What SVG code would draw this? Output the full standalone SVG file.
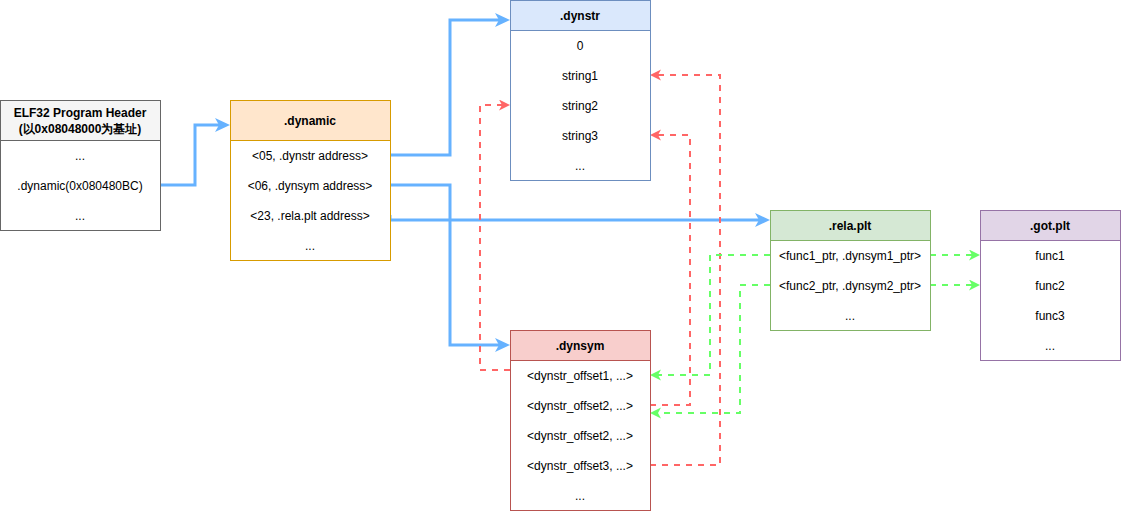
<svg xmlns="http://www.w3.org/2000/svg" width="1121" height="512" viewBox="0 0 1121 512">
  <style>
    text { font-family: "Liberation Sans", Arial, sans-serif; font-size: 12px; fill: #000; text-anchor: middle; dominant-baseline: central; }
    .title { font-weight: bold; }
    .body { fill: #ffffff; }
    .blue { fill: none; stroke: #66B2FF; stroke-width: 3; }
    .red { fill: none; stroke: #FF6666; stroke-width: 2; stroke-dasharray: 6 6; }
    .green { fill: none; stroke: #66FF66; stroke-width: 2; stroke-dasharray: 6 6; }
  </style>
  <defs>
    <marker id="arrowBlue" markerUnits="userSpaceOnUse" markerWidth="16" markerHeight="15" refX="11" refY="7" orient="auto">
      <path d="M0,0 L15,7 L0,14 L4,7 Z" fill="#66B2FF"/>
    </marker>
    <marker id="arrowRed" markerUnits="userSpaceOnUse" markerWidth="12" markerHeight="12" refX="8" refY="5.5" orient="auto">
      <path d="M0,0 L11,5.5 L0,11 L3,5.5 Z" fill="#FF6666"/>
    </marker>
    <marker id="arrowGreen" markerUnits="userSpaceOnUse" markerWidth="12" markerHeight="12" refX="8" refY="5.5" orient="auto">
      <path d="M0,0 L11,5.5 L0,11 L3,5.5 Z" fill="#66FF66"/>
    </marker>
  </defs>

  <rect width="1121" height="512" fill="#ffffff"/>

  <!-- connectors -->
  <g id="connectors">
    <!-- program header -> .dynamic -->
    <path class="blue" d="M160,185 H195 V125 H226" marker-end="url(#arrowBlue)"/>
    <!-- .dynamic entries -> sections -->
    <path class="blue" d="M390,155 H450 V20 H506" marker-end="url(#arrowBlue)"/>
    <path class="blue" d="M390,185 H450 V345 H506" marker-end="url(#arrowBlue)"/>
    <path class="blue" d="M390,215 V220 H766" marker-end="url(#arrowBlue)"/>
    <!-- .dynsym name offsets -> .dynstr strings -->
    <path class="red" d="M510,370 H480 V105 H507" marker-end="url(#arrowRed)"/>
    <path class="red" d="M650,405 H690 V135 H653" marker-end="url(#arrowRed)"/>
    <path class="red" d="M650,465 H720 V75 H653" marker-end="url(#arrowRed)"/>
    <!-- .rela.plt -> .dynsym -->
    <path class="green" d="M770,255 H710 V375 H653" marker-end="url(#arrowGreen)"/>
    <path class="green" d="M770,285 H740 V413 H653" marker-end="url(#arrowGreen)"/>
    <!-- .rela.plt -> .got.plt -->
    <path class="green" d="M930,255 H977" marker-end="url(#arrowGreen)"/>
    <path class="green" d="M930,285 H977" marker-end="url(#arrowGreen)"/>
  </g>

  <!-- ELF32 program header -->
  <g id="elf-header">
    <rect x="0.5" y="100.5" width="160" height="130" class="body" stroke="#666666"/>
    <rect x="0.5" y="100.5" width="160" height="40" fill="#f5f5f5" stroke="#666666"/>
    <text class="title" x="80" y="113" fill="#333333">ELF32 Program Header</text>
    <text class="title" x="80" y="129" fill="#333333">(以0x08048000为基址)</text>
    <text x="80" y="156">...</text>
    <text x="80" y="186">.dynamic(0x080480BC)</text>
    <text x="80" y="216">...</text>
  </g>

  <!-- .dynamic -->
  <g id="dynamic">
    <rect x="230.5" y="100.5" width="160" height="160" class="body" stroke="#d79b00"/>
    <rect x="230.5" y="100.5" width="160" height="40" fill="#ffe6cc" stroke="#d79b00"/>
    <text class="title" x="310" y="121">.dynamic</text>
    <text x="310" y="156">&lt;05, .dynstr address&gt;</text>
    <text x="310" y="186">&lt;06, .dynsym address&gt;</text>
    <text x="310" y="216">&lt;23, .rela.plt address&gt;</text>
    <text x="310" y="246">...</text>
  </g>

  <!-- .dynstr -->
  <g id="dynstr">
    <rect x="510.5" y="0.5" width="140" height="180" class="body" stroke="#6c8ebf"/>
    <rect x="510.5" y="0.5" width="140" height="30" fill="#dae8fc" stroke="#6c8ebf"/>
    <text class="title" x="580" y="16">.dynstr</text>
    <text x="580" y="46">0</text>
    <text x="580" y="76">string1</text>
    <text x="580" y="106">string2</text>
    <text x="580" y="136">string3</text>
    <text x="580" y="166">...</text>
  </g>

  <!-- .dynsym -->
  <g id="dynsym">
    <rect x="510.5" y="330.5" width="140" height="180" class="body" stroke="#b85450"/>
    <rect x="510.5" y="330.5" width="140" height="30" fill="#f8cecc" stroke="#b85450"/>
    <text class="title" x="580" y="346">.dynsym</text>
    <text x="580" y="376">&lt;dynstr_offset1, ...&gt;</text>
    <text x="580" y="406">&lt;dynstr_offset2, ...&gt;</text>
    <text x="580" y="436">&lt;dynstr_offset2, ...&gt;</text>
    <text x="580" y="466">&lt;dynstr_offset3, ...&gt;</text>
    <text x="580" y="496">...</text>
  </g>

  <!-- .rela.plt -->
  <g id="rela-plt">
    <rect x="770.5" y="210.5" width="160" height="120" class="body" stroke="#82b366"/>
    <rect x="770.5" y="210.5" width="160" height="30" fill="#d5e8d4" stroke="#82b366"/>
    <text class="title" x="850" y="226">.rela.plt</text>
    <text x="850" y="256">&lt;func1_ptr, .dynsym1_ptr&gt;</text>
    <text x="850" y="286">&lt;func2_ptr, .dynsym2_ptr&gt;</text>
    <text x="850" y="316">...</text>
  </g>

  <!-- .got.plt -->
  <g id="got-plt">
    <rect x="980.5" y="210.5" width="140" height="150" class="body" stroke="#9673a6"/>
    <rect x="980.5" y="210.5" width="140" height="30" fill="#e1d5e7" stroke="#9673a6"/>
    <text class="title" x="1050" y="226">.got.plt</text>
    <text x="1050" y="256">func1</text>
    <text x="1050" y="286">func2</text>
    <text x="1050" y="316">func3</text>
    <text x="1050" y="346">...</text>
  </g>
</svg>
